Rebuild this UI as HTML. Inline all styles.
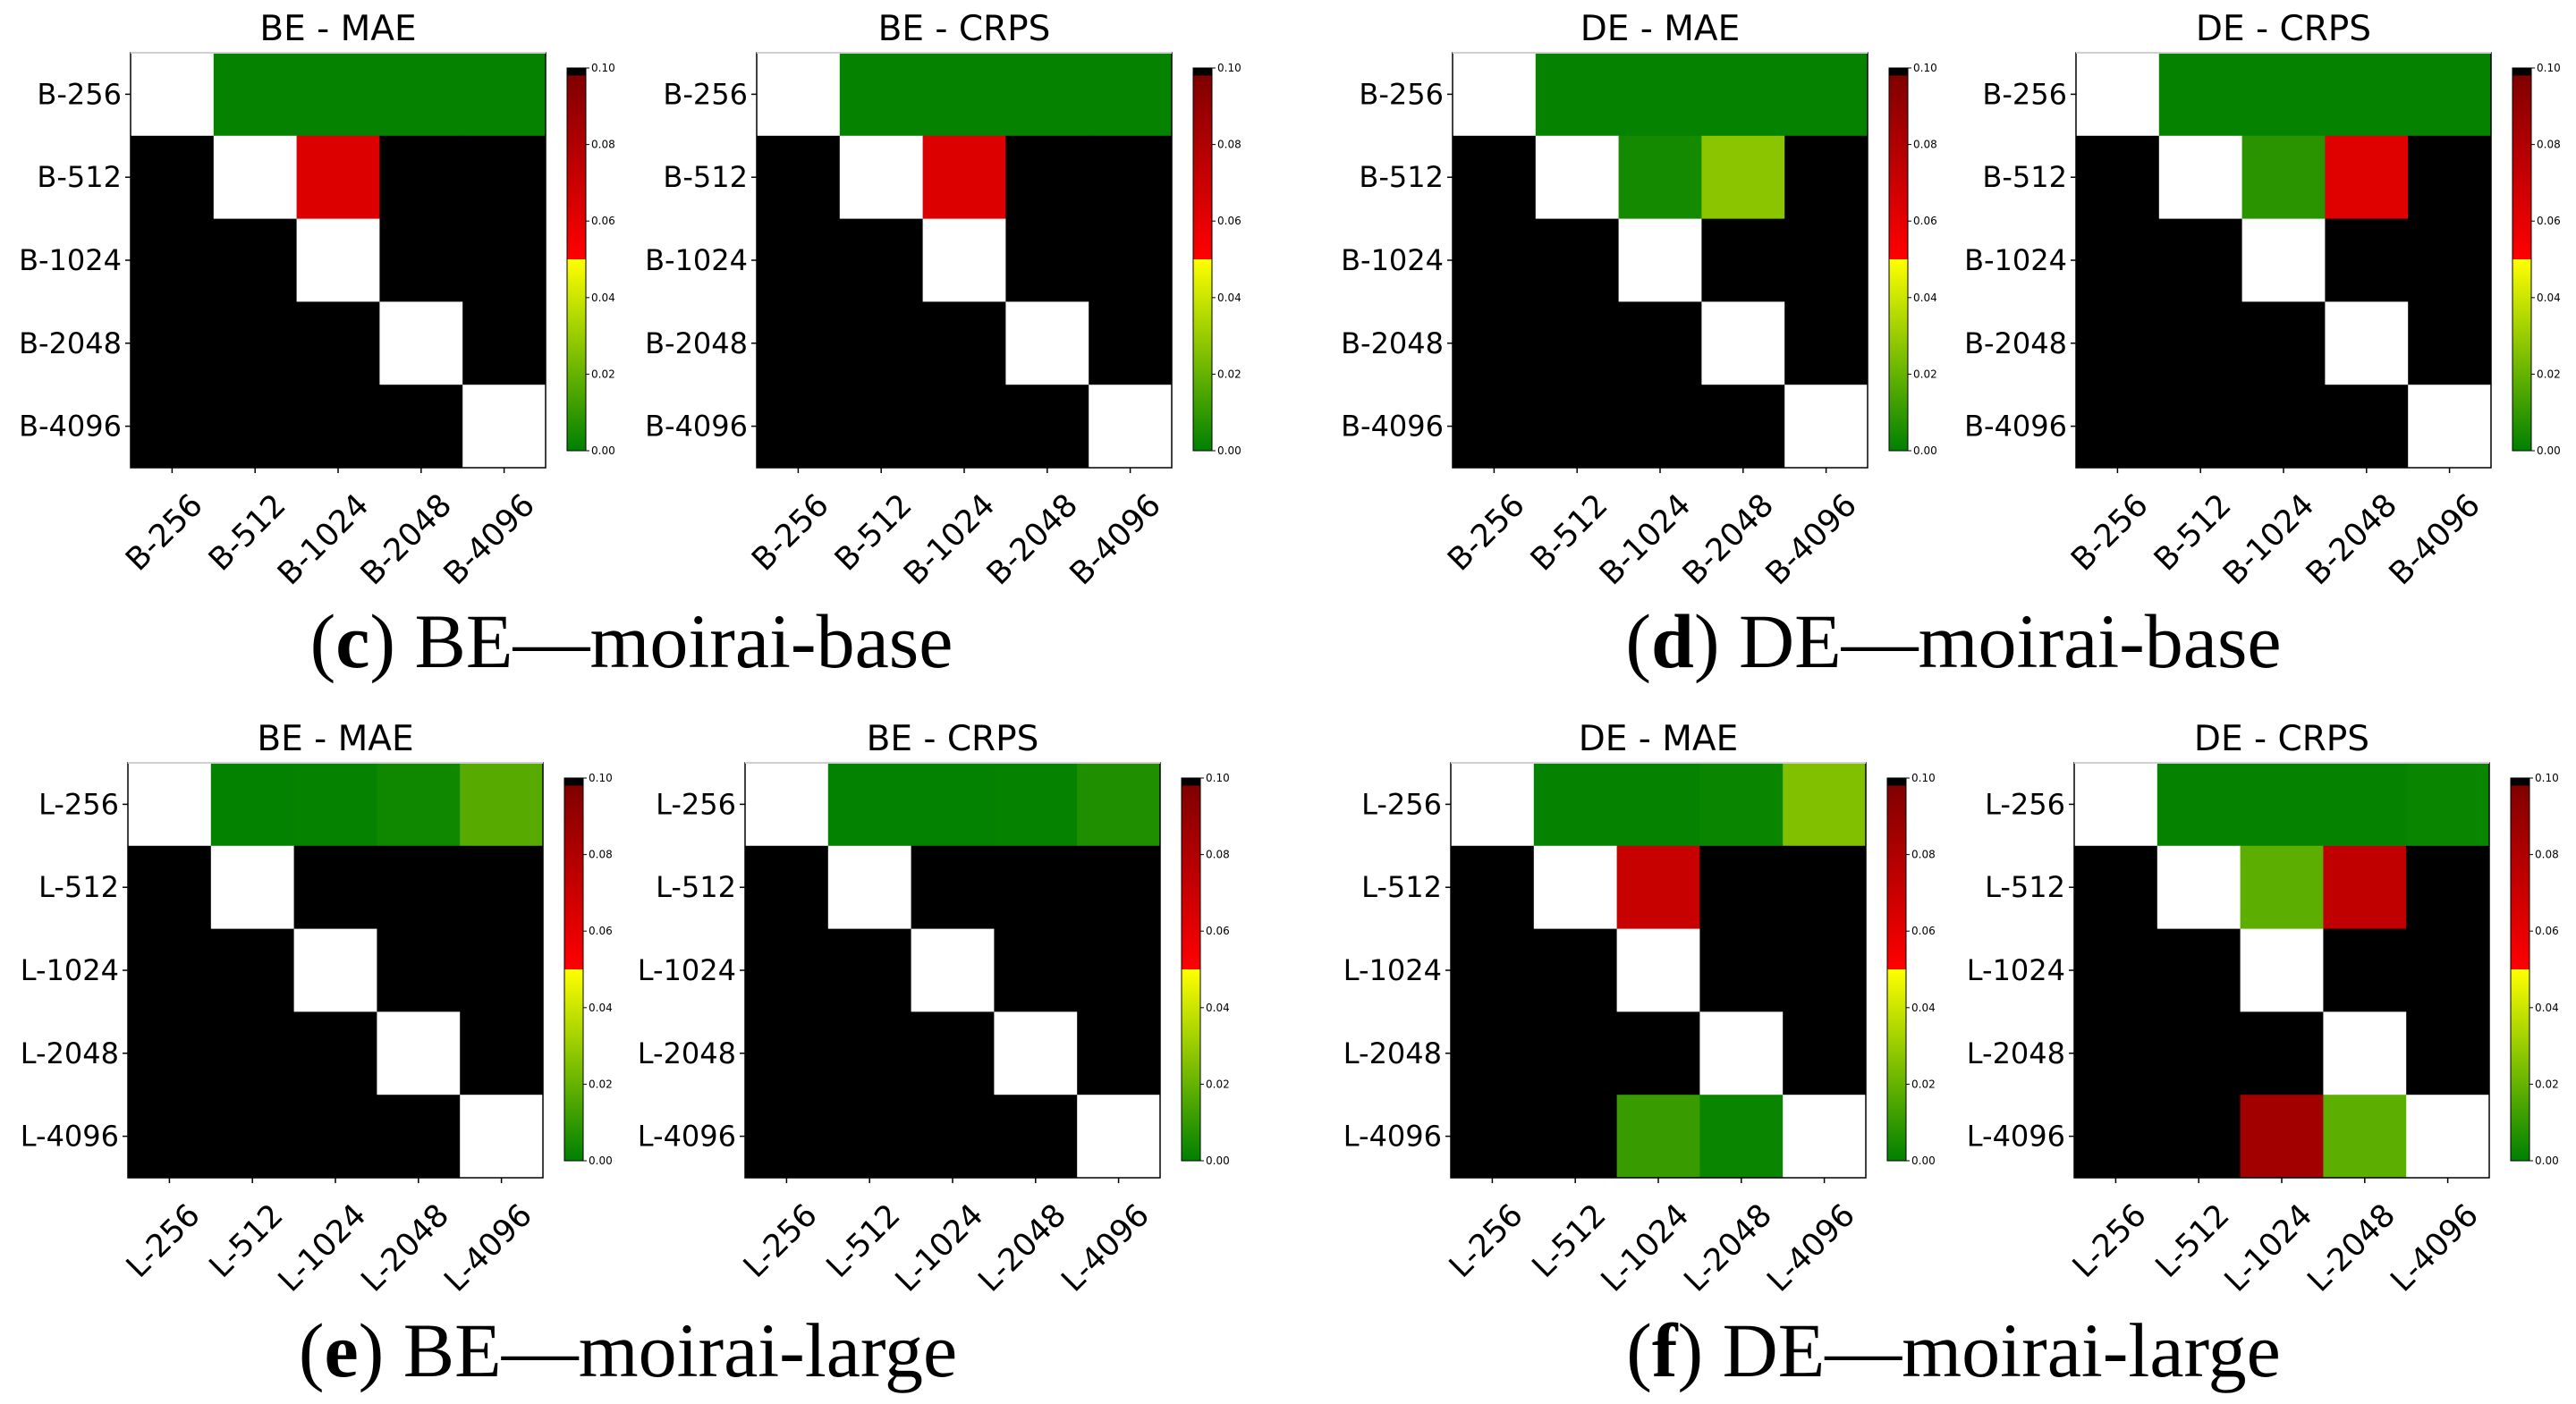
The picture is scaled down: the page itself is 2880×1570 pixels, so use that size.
<!DOCTYPE html>
<html><head><meta charset="utf-8">
<style>
html,body{margin:0;padding:0;background:#fff;}
svg{display:block;}
.t{font-family:"DejaVu Sans","Liberation Sans",sans-serif;fill:#000;}
.cap{font-family:"Liberation Serif",serif;font-size:86px;fill:#000;}
</style></head>
<body>
<svg id="fig" width="2880" height="1570" viewBox="0 0 2880 1570" xmlns="http://www.w3.org/2000/svg">
<defs>
<linearGradient id="cb" x1="0" y1="1" x2="0" y2="0">
<stop offset="0" stop-color="#008000"/>
<stop offset="0.5" stop-color="#ffff00"/>
<stop offset="0.5" stop-color="#ff0000"/>
<stop offset="0.98" stop-color="#800000"/>
<stop offset="0.98" stop-color="#000000"/>
<stop offset="1" stop-color="#000000"/>
</linearGradient>
</defs>
<text class="cap" x="706" y="746" text-anchor="middle">(<tspan font-weight="bold">c</tspan>) BE—moirai-base</text>
<text class="cap" x="2184" y="746" text-anchor="middle">(<tspan font-weight="bold">d</tspan>) DE—moirai-base</text>
<text class="cap" x="702" y="1539" text-anchor="middle">(<tspan font-weight="bold">e</tspan>) BE—moirai-large</text>
<text class="cap" x="2184" y="1539" text-anchor="middle">(<tspan font-weight="bold">f</tspan>) DE—moirai-large</text>
</svg>
<script>
const N = null, X = 1;
const baseLabels = ["B-256","B-512","B-1024","B-2048","B-4096"];
const largeLabels = ["L-256","L-512","L-1024","L-2048","L-4096"];
const cbTicks = [0.00,0.02,0.04,0.06,0.08,0.10];
const cBeMae = [[N,.001,.001,.001,.001],[X,N,.063,X,X],[X,X,N,X,X],[X,X,X,N,X],[X,X,X,X,N]];
const cBeCrps = [[N,.001,.001,.001,.001],[X,N,.063,X,X],[X,X,N,X,X],[X,X,X,N,X],[X,X,X,X,N]];
const dDeMae = [[N,.001,.001,.001,.001],[X,N,.004,.027,X],[X,X,N,X,X],[X,X,X,N,X],[X,X,X,X,N]];
const dDeCrps = [[N,.001,.001,.001,.001],[X,N,.008,.062,X],[X,X,N,X,X],[X,X,X,N,X],[X,X,X,X,N]];
const eBeMae = [[N,.0006,.0008,.003,.017],[X,N,X,X,X],[X,X,N,X,X],[X,X,X,N,X],[X,X,X,X,N]];
const eBeCrps = [[N,.0005,.0005,.001,.006],[X,N,X,X,X],[X,X,N,X,X],[X,X,X,N,X],[X,X,X,X,N]];
const fDeMae = [[N,.001,.001,.002,.025],[X,N,.071,X,X],[X,X,N,X,X],[X,X,X,N,X],[X,X,.011,.002,N]];
const fDeCrps = [[N,.001,.001,.001,.002],[X,N,.018,.074,X],[X,X,N,X,X],[X,X,X,N,X],[X,X,.085,.018,N]];

const panels = [
 {title:"BE - MAE", data:cBeMae, labels:baseLabels, x:146, y:59, key:"c-be-mae"},
 {title:"BE - CRPS", data:cBeCrps, labels:baseLabels, x:846, y:59, key:"c-be-crps"},
 {title:"DE - MAE", data:dDeMae, labels:baseLabels, x:1624, y:59, key:"d-de-mae"},
 {title:"DE - CRPS", data:dDeCrps, labels:baseLabels, x:2321, y:59, key:"d-de-crps"},
 {title:"BE - MAE", data:eBeMae, labels:largeLabels, x:143, y:853, key:"e-be-mae"},
 {title:"BE - CRPS", data:eBeCrps, labels:largeLabels, x:833, y:853, key:"e-be-crps"},
 {title:"DE - MAE", data:fDeMae, labels:largeLabels, x:1622, y:853, key:"f-de-mae"},
 {title:"DE - CRPS", data:fDeCrps, labels:largeLabels, x:2319, y:853, key:"f-de-crps"}
];
const SIZE = 464, CELL = SIZE/5;
const NS = "http://www.w3.org/2000/svg";
const svg = document.getElementById("fig");
function mk(tag, attrs, parent){const e=document.createElementNS(NS,tag);for(const k in attrs)e.setAttribute(k,attrs[k]);(parent||svg).appendChild(e);return e;}
function lerp(a,b,t){return Math.round(a+(b-a)*t);}
function color(v){
  if(v===null) return "#ffffff";
  if(v>=0.098) return "#000000";
  if(v<0.05){const t=Math.max(0,v/0.05);return `rgb(${lerp(0,255,t)},${lerp(128,255,t)},0)`;}
  const t=(v-0.05)/0.048;return `rgb(${lerp(255,128,t)},0,0)`;
}
function cbY(v,top,h){return top+h-(v/0.10)*h;}

panels.forEach(p=>{
  const g = mk("g",{});
  
  
  const tt = mk("text",{class:"t",x:p.x+SIZE/2,y:p.y-14,"text-anchor":"middle","font-size":39},g);
  tt.textContent = p.title;
  
  
  p.data.forEach((row,i)=>row.forEach((v,j)=>{
    const r = mk("rect",{x:p.x+j*CELL,y:p.y+i*CELL,width:CELL+0.5,height:CELL+0.5,fill:color(v)},g);
    
    
  }));
  mk("rect",{x:p.x,y:p.y,width:SIZE,height:SIZE,fill:"none",stroke:"#000","stroke-width":1.5},g);
  mk("line",{x1:p.x,y1:p.y,x2:p.x+SIZE,y2:p.y,stroke:"#d0d0d0","stroke-width":2},g);
  p.labels.forEach((lab,i)=>{
    const cy = p.y+(i+0.5)*CELL;
    mk("line",{x1:p.x-6,y1:cy,x2:p.x,y2:cy,stroke:"#000","stroke-width":1.5},g);
    const yl = mk("text",{class:"t",x:p.x-10,y:cy+11,"text-anchor":"end","font-size":32},g);
    yl.textContent = lab;
    
    
    const cx = p.x+(i+0.5)*CELL;
    mk("line",{x1:cx,y1:p.y+SIZE,x2:cx,y2:p.y+SIZE+6,stroke:"#000","stroke-width":1.5},g);
    const xl = mk("text",{class:"t",x:0,y:0,"text-anchor":"end","font-size":35,transform:`translate(${cx+36},${p.y+SIZE+44}) rotate(-45)`},g);
    xl.textContent = lab;
    
    
  });
  const cbx = p.x+SIZE+24, cbt = p.y+17, cbh = 428, cbw = 21;
  const cb = mk("rect",{x:cbx,y:cbt,width:cbw,height:cbh,fill:"url(#cb)",stroke:"#000","stroke-width":1},g);
  
  
  cbTicks.forEach(v=>{
    const ty = cbY(v,cbt,cbh);
    mk("line",{x1:cbx+cbw,y1:ty,x2:cbx+cbw+4,y2:ty,stroke:"#000","stroke-width":1},g);
    const tl = mk("text",{class:"t",x:cbx+cbw+6,y:ty+4,"font-size":12},g);
    tl.textContent = v.toFixed(2);
    
    
  });
});
</script>
</body></html>
